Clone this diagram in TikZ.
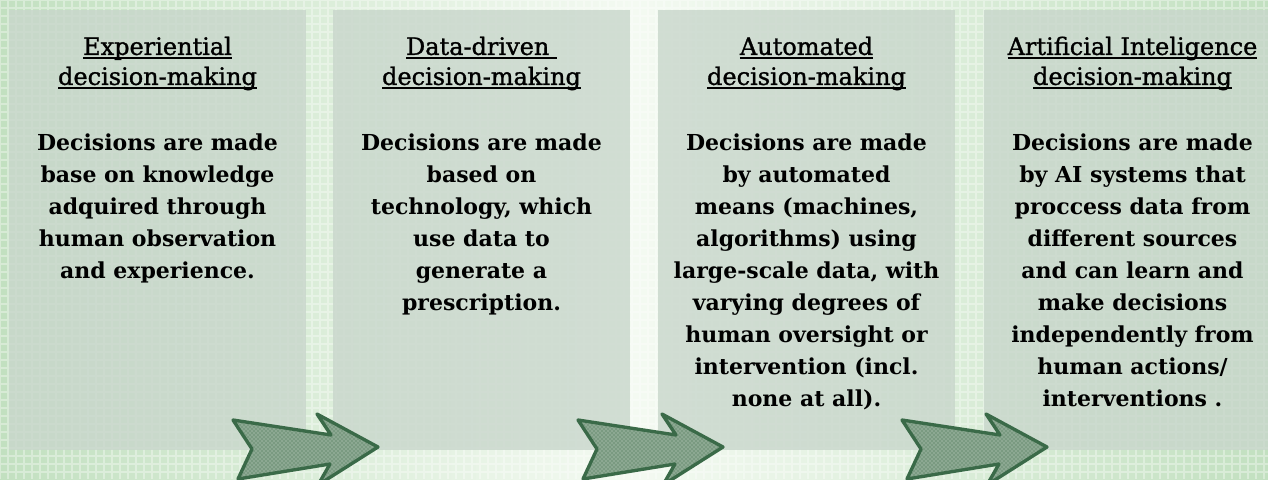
\documentclass[tikz,border=0pt]{standalone}
\usepackage{fontspec}
\setmainfont{DejaVu Serif}
\newfontfamily\headfont[FakeBold=1.2]{DejaVu Serif}
\usetikzlibrary{positioning, patterns}

\definecolor{bgside}{HTML}{C2E0C0}
\definecolor{bgmid}{HTML}{F4FAF2}
\definecolor{panelfill}{HTML}{C8D6CB}
\definecolor{arrowfill}{HTML}{7A9A81}
\definecolor{arrowdots}{HTML}{C9D8CC}
\definecolor{arrowline}{HTML}{3A6A48}

\tikzstyle{panel}=[rectangle, inner sep=0pt, minimum width=222.75pt, minimum height=330pt, fill=panelfill, fill opacity=0.8]
\tikzstyle{heading}=[align=center, inner sep=0pt, text=black, font=\headfont\fontsize{18}{22.5}\selectfont]
\tikzstyle{blurb}=[align=center, inner sep=0pt, text=black, font=\bfseries\fontsize{16.5}{24}\selectfont]
\tikzstyle{chevron}=[fill=arrowfill, postaction={pattern=crosshatch dots, pattern color=arrowdots}, postaction={draw=arrowline, line width=2.5pt, line join=round}]
\newcommand{\titleline}[1]{\setbox0\hbox{#1}\rlap{\rule[-2.8pt]{\wd0}{1pt}}\box0}

\begin{document}
\begin{tikzpicture}[x=0.75pt, y=-0.75pt]
\useasboundingbox (0,0) rectangle (1268,479);
\clip (0,0) rectangle (1268,479);
% background
\shade[left color=bgside, right color=bgside, middle color=bgmid] (0,0) rectangle (1268,479);
\draw[white, opacity=0.35, line width=1pt, step=6pt] (0,479) grid (1268,0);

% panels
\node[panel] (exp) at (157.5,230) {};
\node[panel] (data) at (481.5,230) {};
\node[panel] (auto) at (806.5,230) {};
\node[panel] (ai) at (1132.5,230) {};

% titles
\node[heading, below=20pt of exp.north] (exptitle) {\titleline{Experiential}\\\titleline{decision-making}};
\node[heading, below=20pt of data.north] (datatitle) {\titleline{Data-driven\ }\\\titleline{decision-making}};
\node[heading, below=20pt of auto.north] (autotitle) {\titleline{Automated}\\\titleline{decision-making}};
\node[heading, below=20pt of ai.north] (aititle) {\titleline{Artificial Inteligence}\\\titleline{decision-making}};

% descriptions
\node[blurb, below=32pt of exptitle] (exptext) {Decisions are made\\base on knowledge\\adquired through\\human observation\\and experience.};
\node[blurb, below=32pt of datatitle] (datatext) {Decisions are made\\based on\\technology, which\\use data to\\generate a\\prescription.};
\node[blurb, below=32pt of autotitle] (autotext) {Decisions are made\\by automated\\means (machines,\\algorithms) using\\large-scale data, with\\varying degrees of\\human oversight or\\intervention (incl.\\none at all).};
\node[blurb, below=32pt of aititle] (aitext) {Decisions are made\\by AI systems that\\proccess data from\\different sources\\and can learn and\\make decisions\\independently from\\human actions/\\interventions .};

% arrows
\foreach \dx in {0,345,669} {
  \path[chevron, shift={(\dx,0)}] (233,420) -- (331,435) -- (317,414) -- (378,447) -- (318,485) -- (330,464) -- (238,479) -- (252,449) -- cycle;
}
\end{tikzpicture}
\end{document}
